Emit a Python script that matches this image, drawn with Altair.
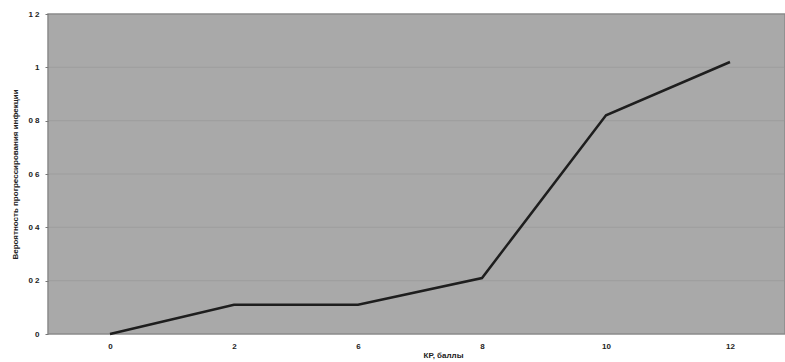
import altair as alt
import pandas as pd

categories = ["0", "2", "6", "8", "10", "12"]
values = [0.0, 0.11, 0.11, 0.21, 0.82, 1.02]
y_ticks = [0, 0.2, 0.4, 0.6, 0.8, 1.0, 1.2]

df = pd.DataFrame({"kr": categories, "p": values})
grid_df = pd.DataFrame({"g": y_ticks[1:-1]})

font = "Liberation Sans"

grid = alt.Chart(grid_df).mark_rule(color="#939393", strokeWidth=1, opacity=0.5).encode(
    y=alt.Y("g:Q", scale=alt.Scale(domain=[0, 1.2], nice=False)),
    x=alt.value(0), x2=alt.value(737)
)

line = alt.Chart(df).mark_line(color="#1e1e1e", strokeWidth=2.5).encode(
    x=alt.X("kr:N", sort=categories, title="КР, баллы",
            scale=alt.Scale(range=[62, 682], padding=0),
            axis=alt.Axis(labelAngle=0, domain=False, ticks=False, grid=False,
                          labelFont=font, labelFontSize=8, labelFontWeight="bold",
                          labelColor="#222", labelPadding=8,
                          titleFont=font, titleFontSize=8, titleFontWeight="bold",
                          titleColor="#222", titlePadding=1, titleX=395)),
    y=alt.Y("p:Q", title="Вероятность прогрессирования инфекции",
            scale=alt.Scale(domain=[0, 1.2], nice=False),
            axis=alt.Axis(values=y_ticks,
                          labelExpr="replace(format(datum.value, '.1~f'), '.', ' ')",
                          domain=False, tickSize=3, tickColor="#777", grid=False,
                          labelFont=font, labelFontSize=8, labelFontWeight="bold",
                          labelColor="#222", labelPadding=6,
                          titleFont=font, titleFontSize=8, titleFontWeight="bold",
                          titleColor="#222", titlePadding=8))
)

chart = alt.layer(grid, line).properties(
    width=737, height=320,
    autosize=alt.AutoSizeParams(type="none"),
    padding={"left": 48, "top": 14, "right": 0, "bottom": 28},
    background="white"
).configure_view(
    fill="#a9a9a9", stroke="#8a8a8a", strokeWidth=1.5
)

chart.save("out.html", embed_options={"renderer": "svg", "actions": False})
